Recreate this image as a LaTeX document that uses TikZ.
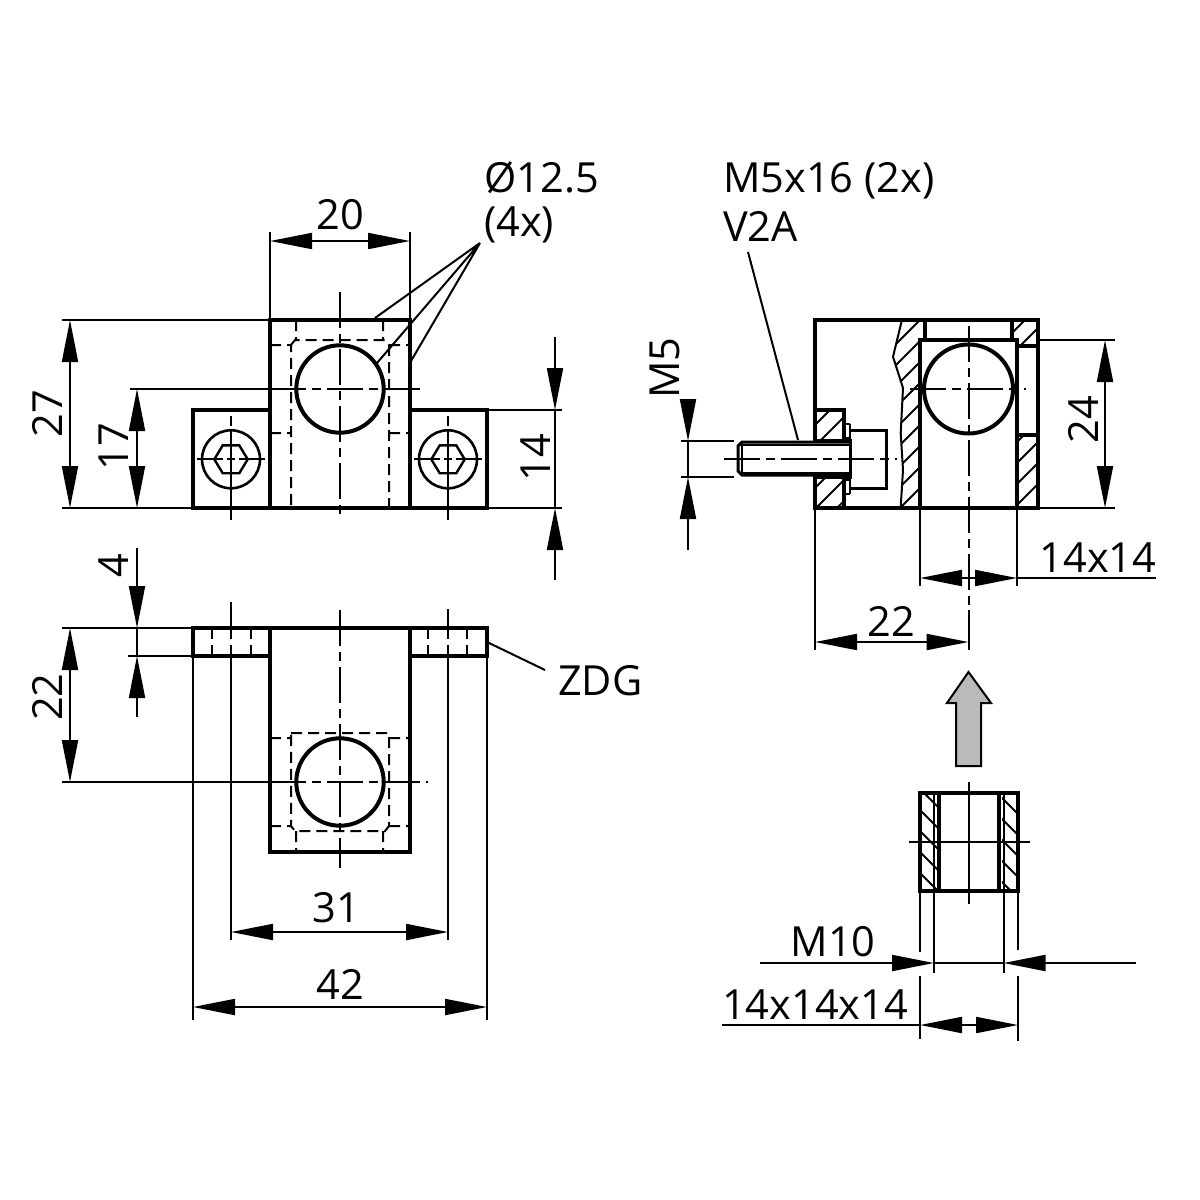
\documentclass[tikz,border=0pt]{standalone}
\usepackage{fontspec}
\setmainfont{Open Sans}
\usetikzlibrary{arrows.meta}
\tikzset{
  thk/.style={line width=4pt,line join=miter,line cap=rect},
  thn/.style={line width=2pt},
  dsh/.style={line width=2pt,dash pattern=on 11pt off 6pt},
  ctr/.style={line width=2pt,dash pattern=on 36pt off 6pt on 9pt off 6pt},
  hat/.style={line width=1.8pt},
  dimm/.style={line width=2pt},
  tipA/.style={-{Triangle[length=42pt,width=16pt]}},
  tipB/.style={{Triangle[length=42pt,width=16pt]}-{Triangle[length=42pt,width=16pt]}},
  lbl/.style={font=\fontsize{41.5}{48}\selectfont,inner sep=0pt,text=black},
  lbll/.style={lbl,anchor=west},
  lblr/.style={lbl,rotate=90},
}
\begin{document}
\begin{tikzpicture}[x=1pt,y=-1pt]
\useasboundingbox (0,0) rectangle (1200,1200);
\fill[white] (0,0) rectangle (1200,1200);
% ---- FRONT VIEW ----
\draw[thn] (270,232)--(270,320) (410,232)--(410,320);
\draw[thn] (62,320)--(270,320) (62,508)--(193,508) (130,389)--(270,389)
  (487,410)--(562,410) (487,508)--(562,508);
\draw[thk] (193,508)--(193,410)--(270,410)--(270,320)--(410,320)--(410,410)--(487,410)--(487,508)--cycle;
\draw[thk] (270,410)--(270,508) (410,410)--(410,508);
\draw[line width=4pt] (340,389) circle (43.7);
\draw[dsh] (270,345)--(291,345)--(291,508) (389,345)--(389,508) (389,345)--(410,345)
  (291,345)--(295,340)--(385,340)--(389,345)
  (296,320)--(296,340) (383,320)--(383,340)
  (270,433)--(291,433) (389,433)--(410,433);
\draw[ctr] (340,292)--(340,515);
\draw[ctr] (270,389)--(422,389);
\foreach \cx in {231,448}{
  \draw[line width=2.6pt] (\cx,459.3) circle (29);
  \draw[line width=2.4pt] (\cx-16.7,459.3)--(\cx-8.3,445.4)--(\cx+8.3,445.4)--(\cx+16.7,459.3)--(\cx+8.3,473.2)--(\cx-8.3,473.2)--cycle;
  \draw[thn] (\cx,416)--(\cx,426) (\cx,430)--(\cx,520) (\cx-34,459.3)--(\cx-8,459.3) (\cx-4,459.3)--(\cx+4,459.3) (\cx+8,459.3)--(\cx+34,459.3);
}
% dims front
\draw[dimm,tipB] (270,241)--(410,241);
\node[lbl] (t20) at (340,215) {20};
\draw[dimm,tipB] (70,320)--(70,508);
\node[lblr] (t27) at (47,414) {27};
\draw[dimm,tipB] (137,389)--(137,508);
\node[lblr] (t17) at (114,447) {17};
\draw[dimm,tipA] (555,337)--(555,410);
\draw[dimm,tipA] (555,580)--(555,508);
\draw[dimm] (555,410)--(555,508);
\node[lblr] (t14) at (536,458) {14};
\node[lbll] (t125) at (484,178) {Ø12.5};
\node[lbll] (t4x) at (484,225) {(4x)};
\coordinate (conv) at (480,243);
\draw[thn] (conv)--(375,318) (conv)--(377,363) (conv)--(411,361);
% ---- BOTTOM VIEW ----
\draw[thn] (62,628)--(193,628) (128,656)--(193,656) (62,782)--(270,782);
\draw[thn] (193,656)--(193,1020) (487,656)--(487,1020) (231,656)--(231,940) (448,656)--(448,940)
  (231,602)--(231,628) (448,609)--(448,628);
\draw[thk] (193,628)--(487,628)--(487,656)--(410,656)--(410,852)--(270,852)--(270,656)--(193,656)--cycle;
\draw[thk] (270,628)--(270,656) (410,628)--(410,656);
\draw[line width=4pt] (340,782) circle (43.7);
\draw[dsh] (212,628)--(212,656) (251,628)--(251,656) (428,628)--(428,656) (467,628)--(467,656) (231,628)--(231,656) (448,628)--(448,656);
\draw[dsh] (291,733)--(389,733)--(389,826)--(385,831)--(295,831)--(291,826)--cycle
  (270,738)--(291,738) (389,738)--(410,738) (270,826)--(291,826) (389,826)--(410,826)
  (296,831)--(296,852) (383,831)--(383,852);
\draw[ctr] (340,610)--(340,868);
\draw[ctr] (270,782)--(428,782);
\draw[dimm,tipA] (137,548)--(137,628);
\draw[dimm,tipA] (137,717)--(137,656);
\draw[dimm] (137,628)--(137,656);
\node[lblr] (t4) at (114,566) {4};
\draw[dimm,tipB] (70,628)--(70,782);
\node[lblr] (t22a) at (47,697) {22};
\draw[dimm,tipB] (231,932)--(448,932);
\node[lbl] (t31) at (336,908) {31};
\draw[dimm,tipB] (193,1007)--(487,1007);
\node[lbl] (t42) at (340,984) {42};
\coordinate (zd) at (545,670);
\draw[thn] (487,642)--(zd);
\node[lbll] (tzdg) at (558,681) {ZDG};
% ---- SIDE VIEW ----
\begin{scope}
\clip (901.7,321) -- (893,356.7) -- (903,388) -- (900.7,433) -- (903,470) -- (900.7,507) -- (920,507) -- (920,321) -- cycle;
\foreach \c in {1219,1240,...,1450} \draw[hat] (\c-300,300)--(\c-600,600);
\end{scope}
\begin{scope}
\clip (1012,320) rectangle (1038,345);
\foreach \c in {1345,1366,1387} \draw[hat] (1000,\c-1000)--(1050,\c-1050);
\end{scope}
\begin{scope}
\clip (1017,435) rectangle (1038,508);
\foreach \c in {1459,1480,...,1550} \draw[hat] (1000,\c-1000)--(1050,\c-1050);
\end{scope}
\begin{scope}
\clip (815,410) rectangle (844,441);
\foreach \c in {1240,1261,1282} \draw[hat] (800,\c-800)--(860,\c-860);
\end{scope}
\begin{scope}
\clip (815,478) rectangle (844,508);
\foreach \c in {1303,1324,1345} \draw[hat] (800,\c-800)--(860,\c-860);
\end{scope}
\draw[thn] (901.7,321) -- (893,356.7) -- (903,388) -- (900.7,433) -- (903,470) -- (900.7,507);
\draw[thk] (815,320)--(1038,320)--(1038,508)--(815,508)--cycle;
\draw[thk] (920,340)--(1017,340) (920,340)--(920,508) (1017,340)--(1017,508);
\draw[thk] (925,320)--(925,340) (1012,320)--(1012,340);
\draw[thk] (1017,346)--(1038,346) (1017,435)--(1038,435);
\draw[line width=4pt] (968.5,389) circle (44.5);
\draw[thk] (815,410)--(844,410)--(844,441) (844,478)--(844,508);
\draw[line width=2.8pt] (844,424)--(850,424) (844,438)--(850,438) (844,480)--(850,480) (844,494)--(850,494) (850,424)--(850,494);
\draw[line width=3pt] (850,430)--(886,430)--(886,488)--(850,488);
\fill[white] (745,442) rectangle (850,475);
\draw[line width=3pt] (850,442)--(742,442)--(738,446)--(738,471)--(742,475)--(850,475);
\draw[thk] (815,441)--(850,441) (815,477)--(850,477);
\draw[thn] (740,445)--(850,445) (740,473)--(850,473) (742,442)--(742,475);
\draw[line width=3pt] (850,442)--(850,475);
\draw[ctr] (724,459)--(897,459);
\draw[ctr] (910,389)--(1026,389);
\draw[ctr] (968.5,326)--(968.5,610);
\draw[thn] (815,508)--(815,650) (920,508)--(920,586) (1017,508)--(1017,586);
\draw[thn] (968.5,610)--(968.5,650);
\draw[thn] (1038,340)--(1115,340) (1038,508)--(1115,508);
\draw[thn] (681,441)--(734,441) (681,477)--(734,477);
\draw[dimm,tipA] (688,400)--(688,441);
\draw[dimm,tipA] (688,550)--(688,477);
\draw[dimm] (688,441)--(688,477);
\node[lblr] (tm5) at (665,368) {M5};
\draw[dimm,tipB] (1105,340)--(1105,508);
\node[lblr] (t24) at (1083,420) {24};
\draw[dimm,tipB] (920,578)--(1017,578);
\draw[thn] (1017,578)--(1156,578);
\node[lbl] (t1414) at (1098,558) {14x14};
\draw[dimm,tipB] (815,642)--(968.5,642);
\node[lbl] (t22b) at (891,621) {22};
\node[lbll] (tm516) at (723,181) {M5x16 (2x)};
\node[lbll] (tv2a) at (723,226) {V2A};
\draw[thn] (748,252)--(798,440);
% ---- GREY ARROW ----
\draw[line width=2pt,fill=black!27] (968.5,672)--(991,703)--(981,703)--(981,766)--(956,766)--(956,703)--(947,703)--cycle;
% ---- NUT ----
\begin{scope}
\clip (920,793) rectangle (937,891);
\foreach \c in {-130,-109,...,60} \draw[hat] (900,900+\c-1)--(960,960+\c-1);
\end{scope}
\begin{scope}
\clip (1002,793) rectangle (1018,891);
\foreach \c in {-230,-209,...,0} \draw[hat] (1000,1000+\c-100)--(1030,1030+\c-100);
\end{scope}
\draw[thk] (920,793)--(1018,793)--(1018,891)--(920,891)--cycle;
\draw[thk] (939,793)--(939,891) (999,793)--(999,891);
\draw[thn] (934,793)--(934,891) (1003.5,793)--(1003.5,891);
\draw[thn] (909,842)--(1030,842) (968.5,782)--(968.5,904);
\draw[thn] (920,891)--(920,952) (920,976)--(920,1039) (1018,891)--(1018,950) (1018,976)--(1018,1041) (934,891)--(934,973) (1003.5,891)--(1003.5,973);
\draw[dimm,tipA] (760,963)--(934,963);
\draw[dimm,tipA] (1136,963)--(1003.5,963);
\draw[dimm] (934,963)--(1003.5,963);
\node[lbl] (tm10) at (833,942) {M10};
\draw[thn] (722,1025)--(920,1025);
\draw[dimm,tipB] (920,1025)--(1018,1025);
\node[lbl] (t141414) at (815,1005) {14x14x14};
\end{tikzpicture}
\end{document}
